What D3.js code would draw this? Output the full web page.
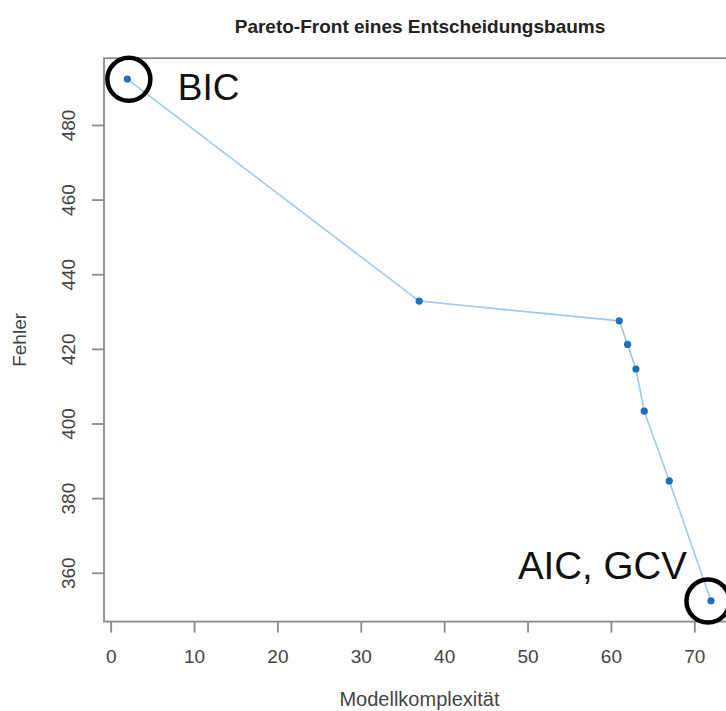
<!DOCTYPE html>
<html>
<head>
<meta charset="utf-8">
<script src="https://cdn.jsdelivr.net/npm/d3@7"></script>
<style>
  body { margin: 0; background: #fff; }
  text { font-family: "Liberation Sans", Arial, sans-serif; }
</style>
</head>
<body>
<div class="container"></div>
<script>
// pareto front values
var complexity = [2, 37, 61, 62, 63, 64, 67, 72];
var fehler = [492.3, 432.8, 427.5, 421.2, 414.6, 403.3, 384.6, 352.5];
var xTicks = [0, 10, 20, 30, 40, 50, 60, 70];
var yTicks = [360, 380, 400, 420, 440, 460, 480];

var W = 726, H = 711;
// plot region (R style box, right edge runs past the window)
// note: can't call it "top", that's window.top
var plotLeft = 104, plotTop = 58.2, plotRight = 734.3, plotBottom = 621.6;

var svg = d3.select(".container")
  .append("svg")
  .attr("width", W)
  .attr("height", H);

// R pads the data range by 4% on each side
function padded(vals) {
  var ext = d3.extent(vals), d = (ext[1] - ext[0]) * 0.04;
  return [ext[0] - d, ext[1] + d];
}

var x = d3.scaleLinear().domain(padded(complexity)).range([plotLeft, plotRight]);
var y = d3.scaleLinear().domain(padded(fehler)).range([plotBottom, plotTop]);

var pts = complexity.map(function(c, i) { return {x: c, y: fehler[i]}; });

// box
svg.append("rect")
  .attr("x", plotLeft).attr("y", plotTop)
  .attr("width", plotRight - plotLeft).attr("height", plotBottom - plotTop)
  .style("fill", "none")
  .style("stroke", "#8a8a8a")
  .style("stroke-width", 1.8);

// x axis
var gx = svg.append("g")
  .attr("transform", "translate(0," + plotBottom + ")")
  .call(d3.axisBottom(x).tickValues(xTicks).tickSize(11).tickPadding(0));
gx.select(".domain").remove();
gx.selectAll("line").style("stroke", "#8a8a8a").style("stroke-width", 1.8);
gx.selectAll("text")
  .attr("y", 41).attr("dy", 0)
  .style("font-size", "19px").style("fill", "#444");

// y axis, labels turned like R's default
var gy = svg.append("g")
  .attr("transform", "translate(" + plotLeft + ",0)")
  .call(d3.axisLeft(y).tickValues(yTicks).tickSize(12));
gy.select(".domain").remove();
gy.selectAll("line").style("stroke", "#8a8a8a").style("stroke-width", 1.8);
gy.selectAll("text")
  .attr("x", 0).attr("dy", 0)
  .attr("transform", "translate(-29,0) rotate(-90)")
  .style("text-anchor", "middle")
  .style("font-size", "19px").style("fill", "#444");

// titles
svg.append("text")
  .attr("x", 420).attr("y", 33.3)
  .style("text-anchor", "middle")
  .style("font-size", "19px").style("font-weight", "bold").style("fill", "#222")
  .text("Pareto-Front eines Entscheidungsbaums");

svg.append("text")
  .attr("x", 419.5).attr("y", 705.5)
  .style("text-anchor", "middle")
  .style("font-size", "20px").style("fill", "#444")
  .text("Modellkomplexität");

svg.append("text")
  .attr("transform", "translate(26," + ((plotTop + plotBottom) / 2) + ") rotate(-90)")
  .style("text-anchor", "middle")
  .style("font-size", "19px").style("fill", "#444")
  .text("Fehler");

// line and points
var line = d3.line().x(function(d) { return x(d.x); }).y(function(d) { return y(d.y); });
svg.append("path")
  .datum(pts)
  .attr("d", line)
  .style("fill", "none")
  .style("stroke", "#9ccbee")
  .style("stroke-width", 1.6);

svg.selectAll("circle.pt")
  .data(pts)
  .enter().append("circle")
  .attr("class", "pt")
  .attr("cx", function(d) { return x(d.x); })
  .attr("cy", function(d) { return y(d.y); })
  .attr("r", 3.6)
  .style("fill", "#1f6fbf");

// hand drawn annotations
var first = pts[0], last = pts[pts.length - 1];
svg.append("circle")
  .attr("cx", x(first.x) + 1.5).attr("cy", y(first.y) + 0.2)
  .attr("r", 21.5)
  .style("fill", "none").style("stroke", "#000").style("stroke-width", 4.5);
svg.append("circle")
  .attr("cx", x(last.x) - 3).attr("cy", y(last.y) + 0.3)
  .attr("r", 21.5)
  .style("fill", "none").style("stroke", "#000").style("stroke-width", 4.5);

svg.append("text")
  .attr("x", x(first.x) + 50.5).attr("y", y(first.y) + 21)
  .style("font-size", "37px").style("fill", "#111")
  .text("BIC");
svg.append("text")
  .attr("x", x(last.x) - 24).attr("y", y(last.y) - 21.5)
  .style("text-anchor", "end")
  .style("font-size", "38.5px").style("fill", "#111")
  .text("AIC, GCV");
</script>
</body>
</html>
